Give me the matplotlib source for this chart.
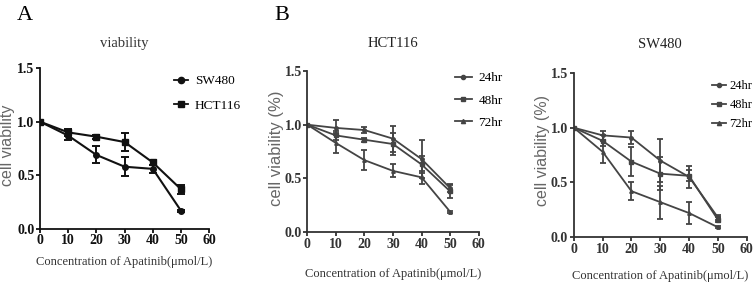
import matplotlib
matplotlib.use("Agg")
import matplotlib.pyplot as plt
from matplotlib.lines import Line2D

plt.rcParams['font.family'] = ['Liberation Serif', 'DejaVu Serif']

conc = [0, 10, 20, 30, 40, 50]
xticks = [0, 10, 20, 30, 40, 50, 60]
yticks = [0.0, 0.5, 1.0, 1.5]

# panel A
a_sw480 = [1.0, 0.87, 0.69, 0.58, 0.56, 0.17]
a_sw480_err = [0.0, 0.04, 0.08, 0.09, 0.04, 0.01]
a_hct116 = [1.0, 0.90, 0.86, 0.81, 0.62, 0.37]
a_hct116_err = [0.0, 0.03, 0.02, 0.08, 0.02, 0.04]

# panel B, HCT116
hct_24 = [1.0, 0.97, 0.95, 0.87, 0.68, 0.41]
hct_24_err = [0.0, 0.07, 0.03, 0.12, 0.18, 0.04]
hct_48 = [1.0, 0.90, 0.86, 0.82, 0.63, 0.38]
hct_48_err = [0.0, 0.04, 0.02, 0.10, 0.08, 0.06]
hct_72 = [1.0, 0.83, 0.67, 0.57, 0.51, 0.19]
hct_72_err = [0.0, 0.09, 0.09, 0.06, 0.06, 0.01]

# panel B, SW480
sw_24 = [1.0, 0.93, 0.91, 0.70, 0.55, 0.18]
sw_24_err = [0.0, 0.04, 0.06, 0.20, 0.10, 0.02]
sw_48 = [1.0, 0.88, 0.69, 0.58, 0.56, 0.16]
sw_48_err = [0.0, 0.05, 0.13, 0.15, 0.05, 0.02]
sw_72 = [1.0, 0.78, 0.42, 0.32, 0.22, 0.09]
sw_72_err = [0.0, 0.10, 0.08, 0.15, 0.10, 0.01]

hours = ['24hr', '48hr', '72hr']
markers_b = ['o', 's', '^']
xlabel = 'Concentration of Apatinib(μmol/L)'

fig = plt.figure(figsize=(7.55, 2.92), dpi=100)


def style_axes(ax, color):
	ax.set_xlim(0, 60)
	ax.set_ylim(0, 1.5)
	ax.set_xticks(xticks)
	ax.set_yticks(yticks)
	ax.set_yticklabels(['0.0', '0.5', '1.0', '1.5'])
	for s in ['top', 'right']:
		ax.spines[s].set_visible(False)
	for s in ['left', 'bottom']:
		ax.spines[s].set_linewidth(1.3)
		ax.spines[s].set_color(color)
	ax.tick_params(direction='out', length=3, width=1.3, colors=color, labelsize=10, pad=1)
	for lab in ax.get_xticklabels() + ax.get_yticklabels():
		lab.set_fontweight('bold')


def handles(color, markers, ms):
	return [Line2D([], [], color=color, marker=m, ms=ms, lw=1.3) for m in markers]


def ylab(ax, text, size, x, y):
	ax.set_ylabel(text, fontsize=size, color='#666666', family=['Liberation Sans', 'DejaVu Sans'])
	ax.yaxis.set_label_coords(x, y)


# ---- A ----
axA = fig.add_axes([0.053, 0.216, 0.224, 0.551])
style_axes(axA, '#111111')
axA.errorbar(conc, a_sw480, yerr=a_sw480_err, color='#111111', marker='o', ms=4,
			 lw=1.5, capsize=3, elinewidth=1.4, capthick=1.4)
axA.errorbar(conc, a_hct116, yerr=a_hct116_err, color='#111111', marker='s', ms=4.5,
			 lw=1.5, capsize=3, elinewidth=1.4, capthick=1.4)
axA.legend(handles('#111111', ['o', 's'], 4.5), ['SW480', 'HCT116'],
		   loc='upper left', bbox_to_anchor=(0.76, 0.99), frameon=False, fontsize=9.5,
		   handlelength=1.1, handletextpad=0.5, labelspacing=0.95, borderaxespad=0)
axA.set_title('viability', fontsize=10.5, color='#333333', pad=15)
ylab(axA, 'cell viability', 11.5, -0.15, 0.52)
axA.set_xlabel(xlabel, fontsize=9, color='#333333')
axA.xaxis.set_label_coords(0.5, -0.168)

# ---- B: HCT116 ----
axB1 = fig.add_axes([0.407, 0.205, 0.227, 0.552])
style_axes(axB1, '#333333')
for m, y, e in zip(markers_b, [hct_24, hct_48, hct_72], [hct_24_err, hct_48_err, hct_72_err]):
	axB1.errorbar(conc, y, yerr=e, color='#444444', marker=m, ms=2.5, lw=1.3,
				  capsize=2, elinewidth=1.3, capthick=1.3)
axB1.legend(handles('#444444', markers_b, 3), hours,
			loc='upper left', bbox_to_anchor=(0.83, 1.025), frameon=False, fontsize=9.5,
			handlelength=1.3, handletextpad=0.5, labelspacing=0.75, borderaxespad=0)
axB1.set_title('HCT116', fontsize=10.5, color='#222222', pad=17)
ylab(axB1, 'cell viability (%)', 12, -0.135, 0.52)
axB1.set_xlabel(xlabel, fontsize=9, color='#333333')
axB1.xaxis.set_label_coords(0.5, -0.224)

# ---- B: SW480 ----
axB2 = fig.add_axes([0.760, 0.188, 0.229, 0.562])
style_axes(axB2, '#333333')
for m, y, e in zip(markers_b, [sw_24, sw_48, sw_72], [sw_24_err, sw_48_err, sw_72_err]):
	axB2.errorbar(conc, y, yerr=e, color='#444444', marker=m, ms=2.5, lw=1.3,
				  capsize=2, elinewidth=1.3, capthick=1.3)
axB2.legend(handles('#444444', markers_b, 3), hours,
			loc='upper left', bbox_to_anchor=(0.77, 0.985), frameon=False, fontsize=9,
			handlelength=1.1, handletextpad=0.3, labelspacing=0.55, borderaxespad=0)
axB2.set_title('SW480', fontsize=10.5, color='#222222', pad=18)
ylab(axB2, 'cell viability (%)', 11.5, -0.135, 0.53)
axB2.set_xlabel(xlabel, fontsize=9, color='#333333')
axB2.xaxis.set_label_coords(0.5, -0.2)

fig.text(0.022, 0.978, 'A', fontsize=16, va='top')
fig.text(0.364, 0.978, 'B', fontsize=16, va='top')

fig.savefig('out.png', dpi=100)
